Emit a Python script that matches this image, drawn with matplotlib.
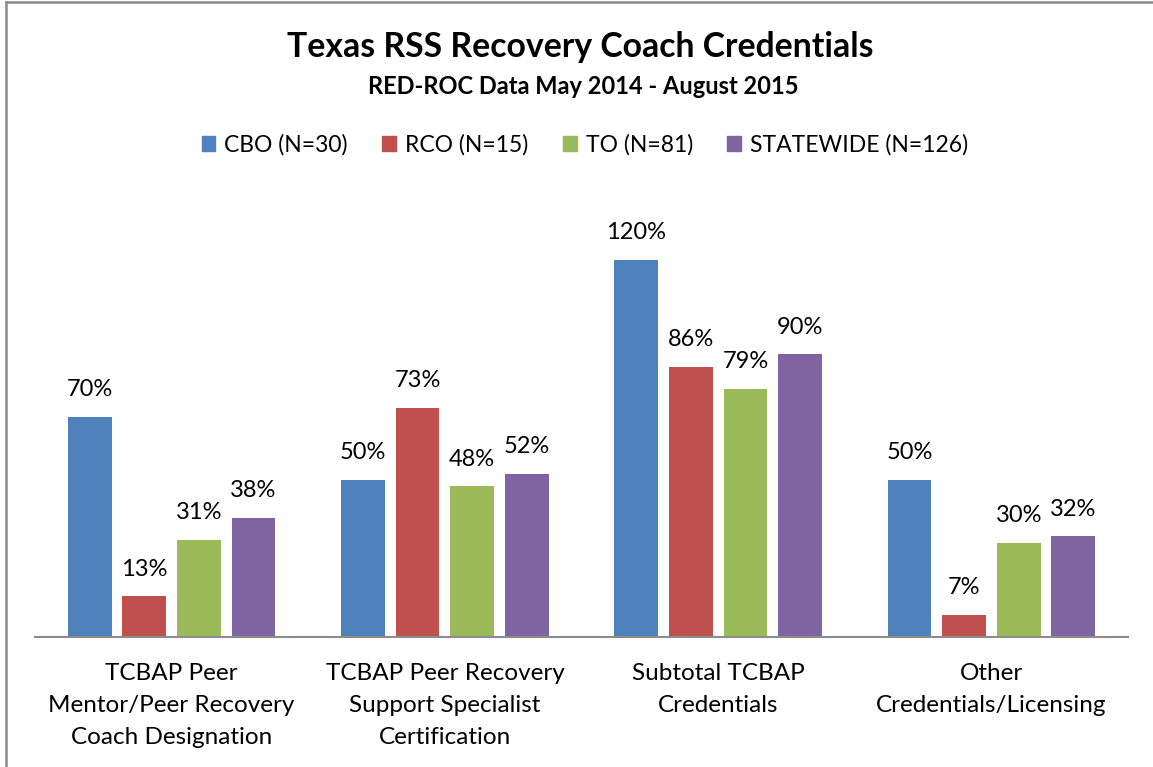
import matplotlib.pyplot as plt
from matplotlib.lines import Line2D
from matplotlib.patches import Patch
import numpy as np

plt.rcParams["font.family"] = ["Lato", "DejaVu Sans"]

categories = [
    "TCBAP Peer\nMentor/Peer Recovery\nCoach Designation",
    "TCBAP Peer Recovery\nSupport Specialist\nCertification",
    "Subtotal TCBAP\nCredentials",
    "Other\nCredentials/Licensing",
]
series_names = ["CBO (N=30)", "RCO (N=15)", "TO (N=81)", "STATEWIDE (N=126)"]
cbo = [70, 50, 120, 50]
rco = [13, 73, 86, 7]
to = [31, 48, 79, 30]
statewide = [38, 52, 90, 32]
colors = ["#4F81BD", "#C0504D", "#9BBB59", "#8064A2"]

W, H = 1153, 767
fig = plt.figure(figsize=(W / 100, H / 100), dpi=100)

# chart border (left and top visible)
fig.add_artist(Line2D([6 / W, 6 / W], [0, 1 - 2 / H], color="#8c8c8c", lw=1.8))
fig.add_artist(Line2D([6 / W, 1], [1 - 2 / H, 1 - 2 / H], color="#8c8c8c", lw=1.8))

ax = fig.add_axes([35 / W, (H - 637) / H, (1128 - 35) / W, 440 / H])

x = np.arange(len(categories))
offsets = [-0.3, -0.1, 0.1, 0.3]
all_series = [cbo, rco, to, statewide]
for vals, off, col, name in zip(all_series, offsets, colors, series_names):
    bars = ax.bar(x + off, vals, width=0.16, color=col, label=name)
    for b, v in zip(bars, vals):
        ax.annotate(
            f"{v}%",
            (b.get_x() + b.get_width() / 2, v),
            xytext=(0, 19.5),
            textcoords="offset points",
            ha="center",
            va="center",
            fontsize=17,
        )

ax.set_xlim(-0.5, 3.5)
ax.set_ylim(0, 140)
ax.set_yticks([])
ax.set_xticks(x)
ax.set_xticklabels(categories, fontsize=17.5, linespacing=1.66)
ax.tick_params(axis="x", length=0, pad=18.5)
for s in ["top", "right", "left"]:
    ax.spines[s].set_visible(False)
ax.spines["bottom"].set_color("#8c8c8c")
ax.spines["bottom"].set_linewidth(1.5)

fig.text(580 / W, 1 - 47 / H, "Texas RSS Recovery Coach Credentials",
         ha="center", va="center", fontsize=24.3, fontweight="bold")
fig.text(583 / W, 1 - 86 / H, "RED-ROC Data May 2014 - August 2015",
         ha="center", va="center", fontsize=17, fontweight="bold")

handles = [Patch(color=c, label=n) for c, n in zip(colors, series_names)]
fig.legend(
    handles=handles,
    loc="center",
    bbox_to_anchor=(585 / W, 1 - 145 / H),
    ncol=4,
    frameon=False,
    fontsize=16.5,
    handlelength=0.6,
    handleheight=0.6,
    handletextpad=0.4,
    columnspacing=1.5,
)

fig.savefig("out.png", dpi=100)
